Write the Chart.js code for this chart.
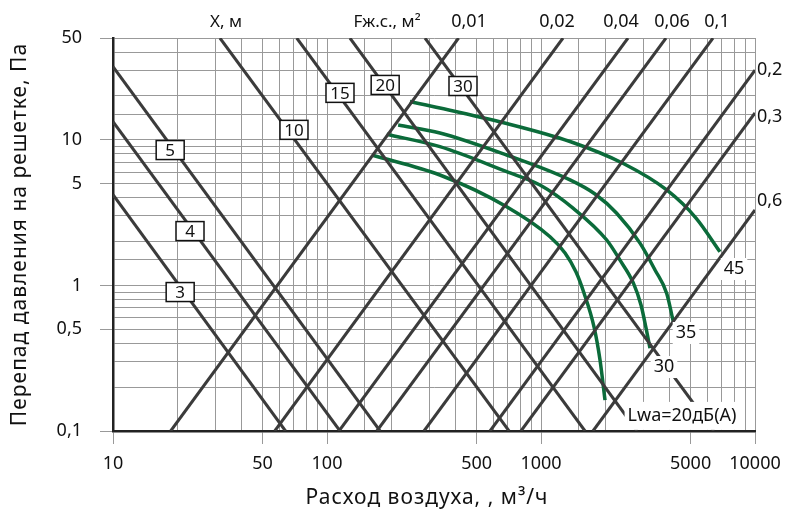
<!DOCTYPE html>
<html>
<head>
<meta charset="utf-8">
<script src="https://cdn.jsdelivr.net/npm/chart.js@4"></script>
<style>html,body{margin:0;padding:0;background:#fff}</style>
</head>
<body>
<canvas id="grilleChart" width="791" height="516"></canvas>
<script>
// throw distance lines X, m  (Q m3/h, dP Pa) endpoints
const throwLabels = ['3', '4', '5', '10', '15', '20', '30'];
const throwFrom = [[10, 4.2], [10, 13.3], [10, 31.8], [31.6, 50], [72.2, 50], [128, 50], [287, 50]];
const throwTo = [[64, 0.1], [115, 0.1], [177, 0.1], [709, 0.1], [1606, 0.1], [2810, 0.1], [6420, 0.1]];
const throwTagAt = [[20.6, 0.9], [22.9, 2.36], [18.5, 8.5], [70.1, 11.7], [115, 21], [187, 23.8], [432, 23.4]];

// free area lines F, m2
const areaLabels = ['0,01', '0,02', '0,04', '0,06', '0,1', '0,2', '0,3', '0,6'];
const areaFrom = [[18.6, 0.1], [57, 0.1], [113.8, 0.1], [171, 0.1], [284, 0.1], [578, 0.1], [806, 0.1], [1750, 0.1]];
const areaTo = [[412, 50], [1267, 50], [2550, 50], [3838, 50], [6364, 50], [10000, 30.1], [10000, 15.3], [10000, 3.3]];
const areaTagAt = [[461, 50], [1188, 50], [2365, 50], [4094, 50], [6644, 50], [10000, 30.1], [10000, 14.3], [10000, 3.8]];

// sound power curves Lwa
const noiseLabels = ['45', '35', '30', 'Lwa=20дБ(A)'];
const noiseTagAt = [[7978, 1.296], [4760, 0.471], [3756, 0.275], [4560, 0.127]];
const lwa45 = [[244, 18.3], [337, 16.54], [691, 12.94], [1366, 9.73], [2425, 6.87], [3868, 4.52], [5301, 2.9], [6861, 1.7]];
const lwa35 = [[215, 12.64], [337, 11.14], [691, 7.86], [1366, 5.3], [1788, 4.24], [2258, 3.13], [2901, 1.95], [3410, 1.276], [3868, 0.88], [4152, 0.563]];
const lwa30 = [[190, 10.91], [337, 8.97], [691, 6.04], [989, 4.89], [1416, 3.38], [2028, 2.05], [2340, 1.49], [2700, 1.04], [2933, 0.733], [3095, 0.51], [3230, 0.37]];
const lwa20 = [[162, 7.86], [337, 5.73], [691, 3.47], [1102, 2.16], [1295, 1.67], [1458, 1.236], [1588, 0.887], [1769, 0.518], [1887, 0.307], [1991, 0.163]];

const xTickLabels = [10, 50, 100, 500, 1000, 5000, 10000];
const yTickLabels = [0.1, 0.5, 1, 5, 10, 50];

const FONT = "'Noto Sans', sans-serif";
const DARK = '#3b3b3b';
const GREEN = '#0b6b3a';
const GRID = '#999';

const pts = arr => arr.map(p => ({ x: p[0], y: p[1] }));
const isIn = (list, v) => list.some(t => Math.abs(v - t) / t < 1e-6);

const datasets = [];
throwLabels.forEach((l, i) => {
  datasets.push({ label: 'X ' + l, data: pts([throwFrom[i], throwTo[i]]), borderColor: DARK, borderWidth: 3, tension: 0 });
});
areaLabels.forEach((l, i) => {
  datasets.push({ label: 'F ' + l, data: pts([areaFrom[i], areaTo[i]]), borderColor: DARK, borderWidth: 3, tension: 0 });
});
[lwa45, lwa35, lwa30, lwa20].forEach((c, i) => {
  datasets.push({ label: noiseLabels[i], data: pts(c), borderColor: GREEN, borderWidth: 3.5, cubicInterpolationMode: 'monotone' });
});

const labelsPlugin = {
  id: 'labels',
  afterDatasetsDraw(chart) {
    const { ctx, scales: { x, y }, chartArea } = chart;
    ctx.save();
    ctx.textAlign = 'center';
    ctx.textBaseline = 'middle';

    // boxed throw labels
    ctx.font = '17px ' + FONT;
    throwLabels.forEach((l, i) => {
      const px = x.getPixelForValue(throwTagAt[i][0]);
      const py = y.getPixelForValue(throwTagAt[i][1]);
      ctx.fillStyle = '#fff';
      ctx.fillRect(px - 14, py - 9.5, 28, 19);
      ctx.strokeStyle = '#111';
      ctx.lineWidth = 1.5;
      ctx.strokeRect(px - 14, py - 9.5, 28, 19);
      ctx.fillStyle = '#111';
      ctx.fillText(l, px, py + 1);
    });

    // noise labels on white
    ctx.font = '18px ' + FONT;
    noiseLabels.forEach((l, i) => {
      const px = x.getPixelForValue(noiseTagAt[i][0]);
      const py = y.getPixelForValue(noiseTagAt[i][1]);
      const w = ctx.measureText(l).width + 6;
      const h = i === 3 ? 28 : 22;
      ctx.fillStyle = '#fff';
      ctx.fillRect(px - w / 2, py - h / 2, w, h);
      ctx.fillStyle = '#111';
      ctx.fillText(l, px, py);
    });

    // free area labels (top and right)
    ctx.font = '18px ' + FONT;
    ctx.fillStyle = '#111';
    areaLabels.forEach((l, i) => {
      const [q, p] = areaTagAt[i];
      if (p >= 50) {
        ctx.textAlign = 'center';
        ctx.fillText(l, x.getPixelForValue(q), 22);
      } else {
        ctx.textAlign = 'left';
        ctx.fillText(l, chartArea.right + 2, y.getPixelForValue(p));
      }
    });

    // captions above the plot
    ctx.textAlign = 'center';
    ctx.font = '17px ' + FONT;
    ctx.fillText('X, м', 226, 22);
    ctx.fillText('Fж.с., м²', 387, 22);

    // axis titles
    ctx.font = '21px ' + FONT;
    ctx.letterSpacing = '1px';
    ctx.fillText('Расход воздуха, , м³/ч', 427, 498);
    ctx.translate(20, (chartArea.top + chartArea.bottom) / 2);
    ctx.rotate(-Math.PI / 2);
    ctx.fillText('Перепад давления на решетке, Па', 0, 0);
    ctx.restore();
  }
};

new Chart(document.getElementById('grilleChart'), {
  type: 'scatter',
  data: { datasets },
  options: {
    responsive: false,
    animation: false,
    devicePixelRatio: 1,
    showLine: true,
    elements: { point: { radius: 0 } },
    layout: { padding: { top: 38, right: 36, left: 0, bottom: 0 } },
    plugins: { legend: { display: false }, tooltip: { enabled: false } },
    scales: {
      x: {
        type: 'logarithmic',
        min: 10,
        max: 10000,
        afterFit: s => { s.height = 85; },
        border: { display: true, color: '#222', width: 2.5 },
        grid: {
          color: GRID,
          lineWidth: 1,
          tickLength: 13,
          tickColor: c => isIn(xTickLabels, c.tick.value) ? GRID : 'rgba(0,0,0,0)'
        },
        ticks: {
          autoSkip: false,
          maxRotation: 0,
          minRotation: 0,
          padding: 9,
          color: '#111',
          font: { size: 18, family: FONT },
          callback: v => isIn(xTickLabels, v) ? String(Math.round(v)) : ''
        }
      },
      y: {
        type: 'logarithmic',
        min: 0.1,
        max: 50,
        afterFit: s => { s.width = 113; },
        border: { display: true, color: '#222', width: 2.5 },
        grid: {
          color: GRID,
          lineWidth: 1,
          tickLength: 13,
          tickColor: c => isIn(yTickLabels, c.tick.value) ? GRID : 'rgba(0,0,0,0)'
        },
        ticks: {
          autoSkip: false,
          padding: 18,
          color: '#111',
          font: { size: 18, family: FONT },
          callback: v => isIn(yTickLabels, v) ? String(v).replace('.', ',') : ''
        }
      }
    }
  },
  plugins: [labelsPlugin]
});
</script>
</body>
</html>
